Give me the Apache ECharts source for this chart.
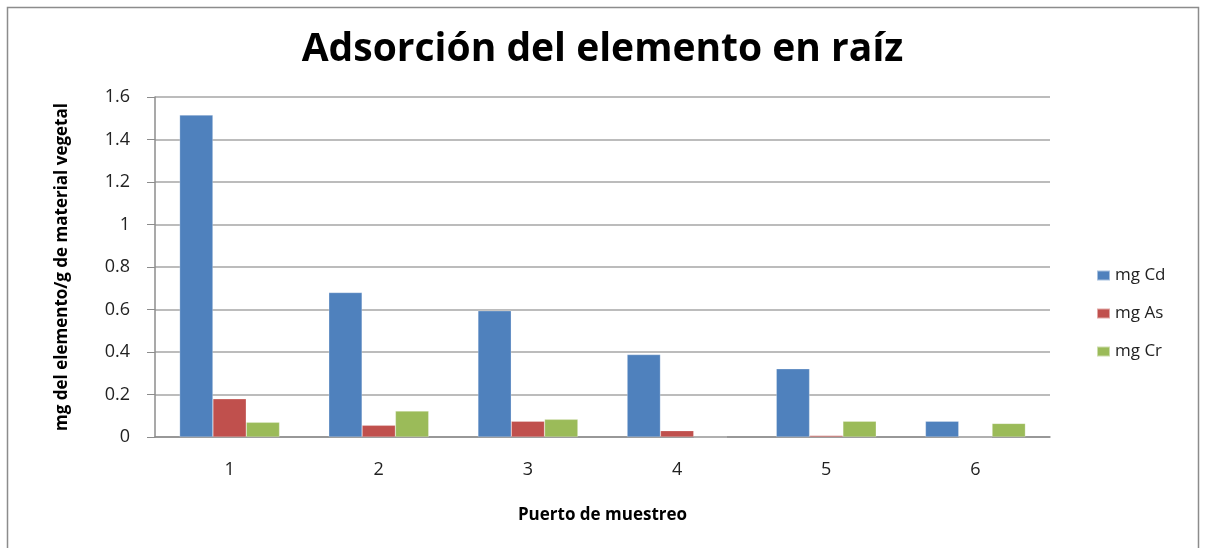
<!DOCTYPE html>
<html>
<head>
<meta charset="utf-8">
<script src="https://cdn.jsdelivr.net/npm/echarts@6/dist/echarts.min.js"></script>
<style>
  html, body { margin: 0; padding: 0; background: #fff; }
  #chart { width: 1205px; height: 548px; }
</style>
</head>
<body>
<div id="chart"></div>
<script>
// Sampling ports and element uptake in roots (mg per g of plant material)
const categories = ['1', '2', '3', '4', '5', '6'];
const seriesNames = ['mg Cd', 'mg As', 'mg Cr'];
const cdValues = [1.515, 0.68, 0.594, 0.388, 0.321, 0.074];
const asValues = [0.18, 0.055, 0.074, 0.030, 0.007, 0];
const crValues = [0.069, 0.122, 0.083, 0, 0.074, 0.064];
const yTicks = [0, 0.2, 0.4, 0.6, 0.8, 1, 1.2, 1.4, 1.6];

const colors = ['#4f81bd', '#c0504d', '#9bbb59'];
const font = '"Open Sans", "Noto Sans", sans-serif';

const chart = echarts.init(document.getElementById('chart'), null, { renderer: 'canvas' });

const makeSeries = (name, values, color) => ({
  name: name,
  type: 'bar',
  data: values,
  barGap: '0%',
  barCategoryGap: '33%',
  itemStyle: { color: color, borderColor: 'rgba(255,255,255,0.5)', borderWidth: 0.5 },
  emphasis: { disabled: true }
});

chart.setOption({
  animation: false,
  backgroundColor: '#fff',
  graphic: [{
    type: 'rect',
    shape: { x: 7.5, y: 7.5, width: 1191, height: 545 },
    style: { fill: 'none', stroke: '#8c8c8c', lineWidth: 1.5 },
    silent: true
  }],
  title: {
    text: 'Adsorción del elemento en raíz',
    left: 'center',
    top: 25,
    textStyle: { fontFamily: font, fontSize: 39, fontWeight: 'bold', color: '#000' }
  },
  legend: {
    orient: 'vertical',
    left: 1091,
    top: 262,
    itemWidth: 13,
    itemHeight: 10,
    itemGap: 21,
    icon: 'rect',
    data: seriesNames,
    textStyle: { fontFamily: font, fontSize: 17, color: '#222' }
  },
  grid: { left: 155, right: 155, top: 97, bottom: 111, containLabel: false },
  xAxis: {
    type: 'category',
    data: categories,
    name: 'Puerto de muestreo',
    nameLocation: 'middle',
    nameGap: 70,
    nameTextStyle: { fontFamily: font, fontSize: 17, fontWeight: 'bold', color: '#000' },
    axisLine: { lineStyle: { color: '#8c8c8c', width: 1.5 } },
    axisTick: { show: false },
    axisLabel: { fontFamily: font, fontSize: 18, color: '#222', margin: 24 }
  },
  yAxis: {
    type: 'value',
    min: 0,
    max: 1.6,
    interval: 0.2,
    name: 'mg del elemento/g de material vegetal',
    nameLocation: 'middle',
    nameGap: 84,
    nameTextStyle: { fontFamily: font, fontSize: 17, fontWeight: 'bold', color: '#000' },
    axisLine: { show: true, lineStyle: { color: '#8c8c8c', width: 1.5 } },
    axisTick: { show: true, inside: false, length: 8, lineStyle: { color: '#8c8c8c' } },
    splitLine: { lineStyle: { color: '#a6a6a6', width: 1.5 } },
    axisLabel: {
      fontFamily: font, fontSize: 18, color: '#222', margin: 25,
      formatter: v => {
        const t = yTicks.find(x => Math.abs(x - v) < 1e-9);
        return t === undefined ? '' : String(t);
      }
    }
  },
  series: [
    makeSeries(seriesNames[0], cdValues, colors[0]),
    makeSeries(seriesNames[1], asValues, colors[1]),
    makeSeries(seriesNames[2], crValues, colors[2])
  ]
});
</script>
</body>
</html>
